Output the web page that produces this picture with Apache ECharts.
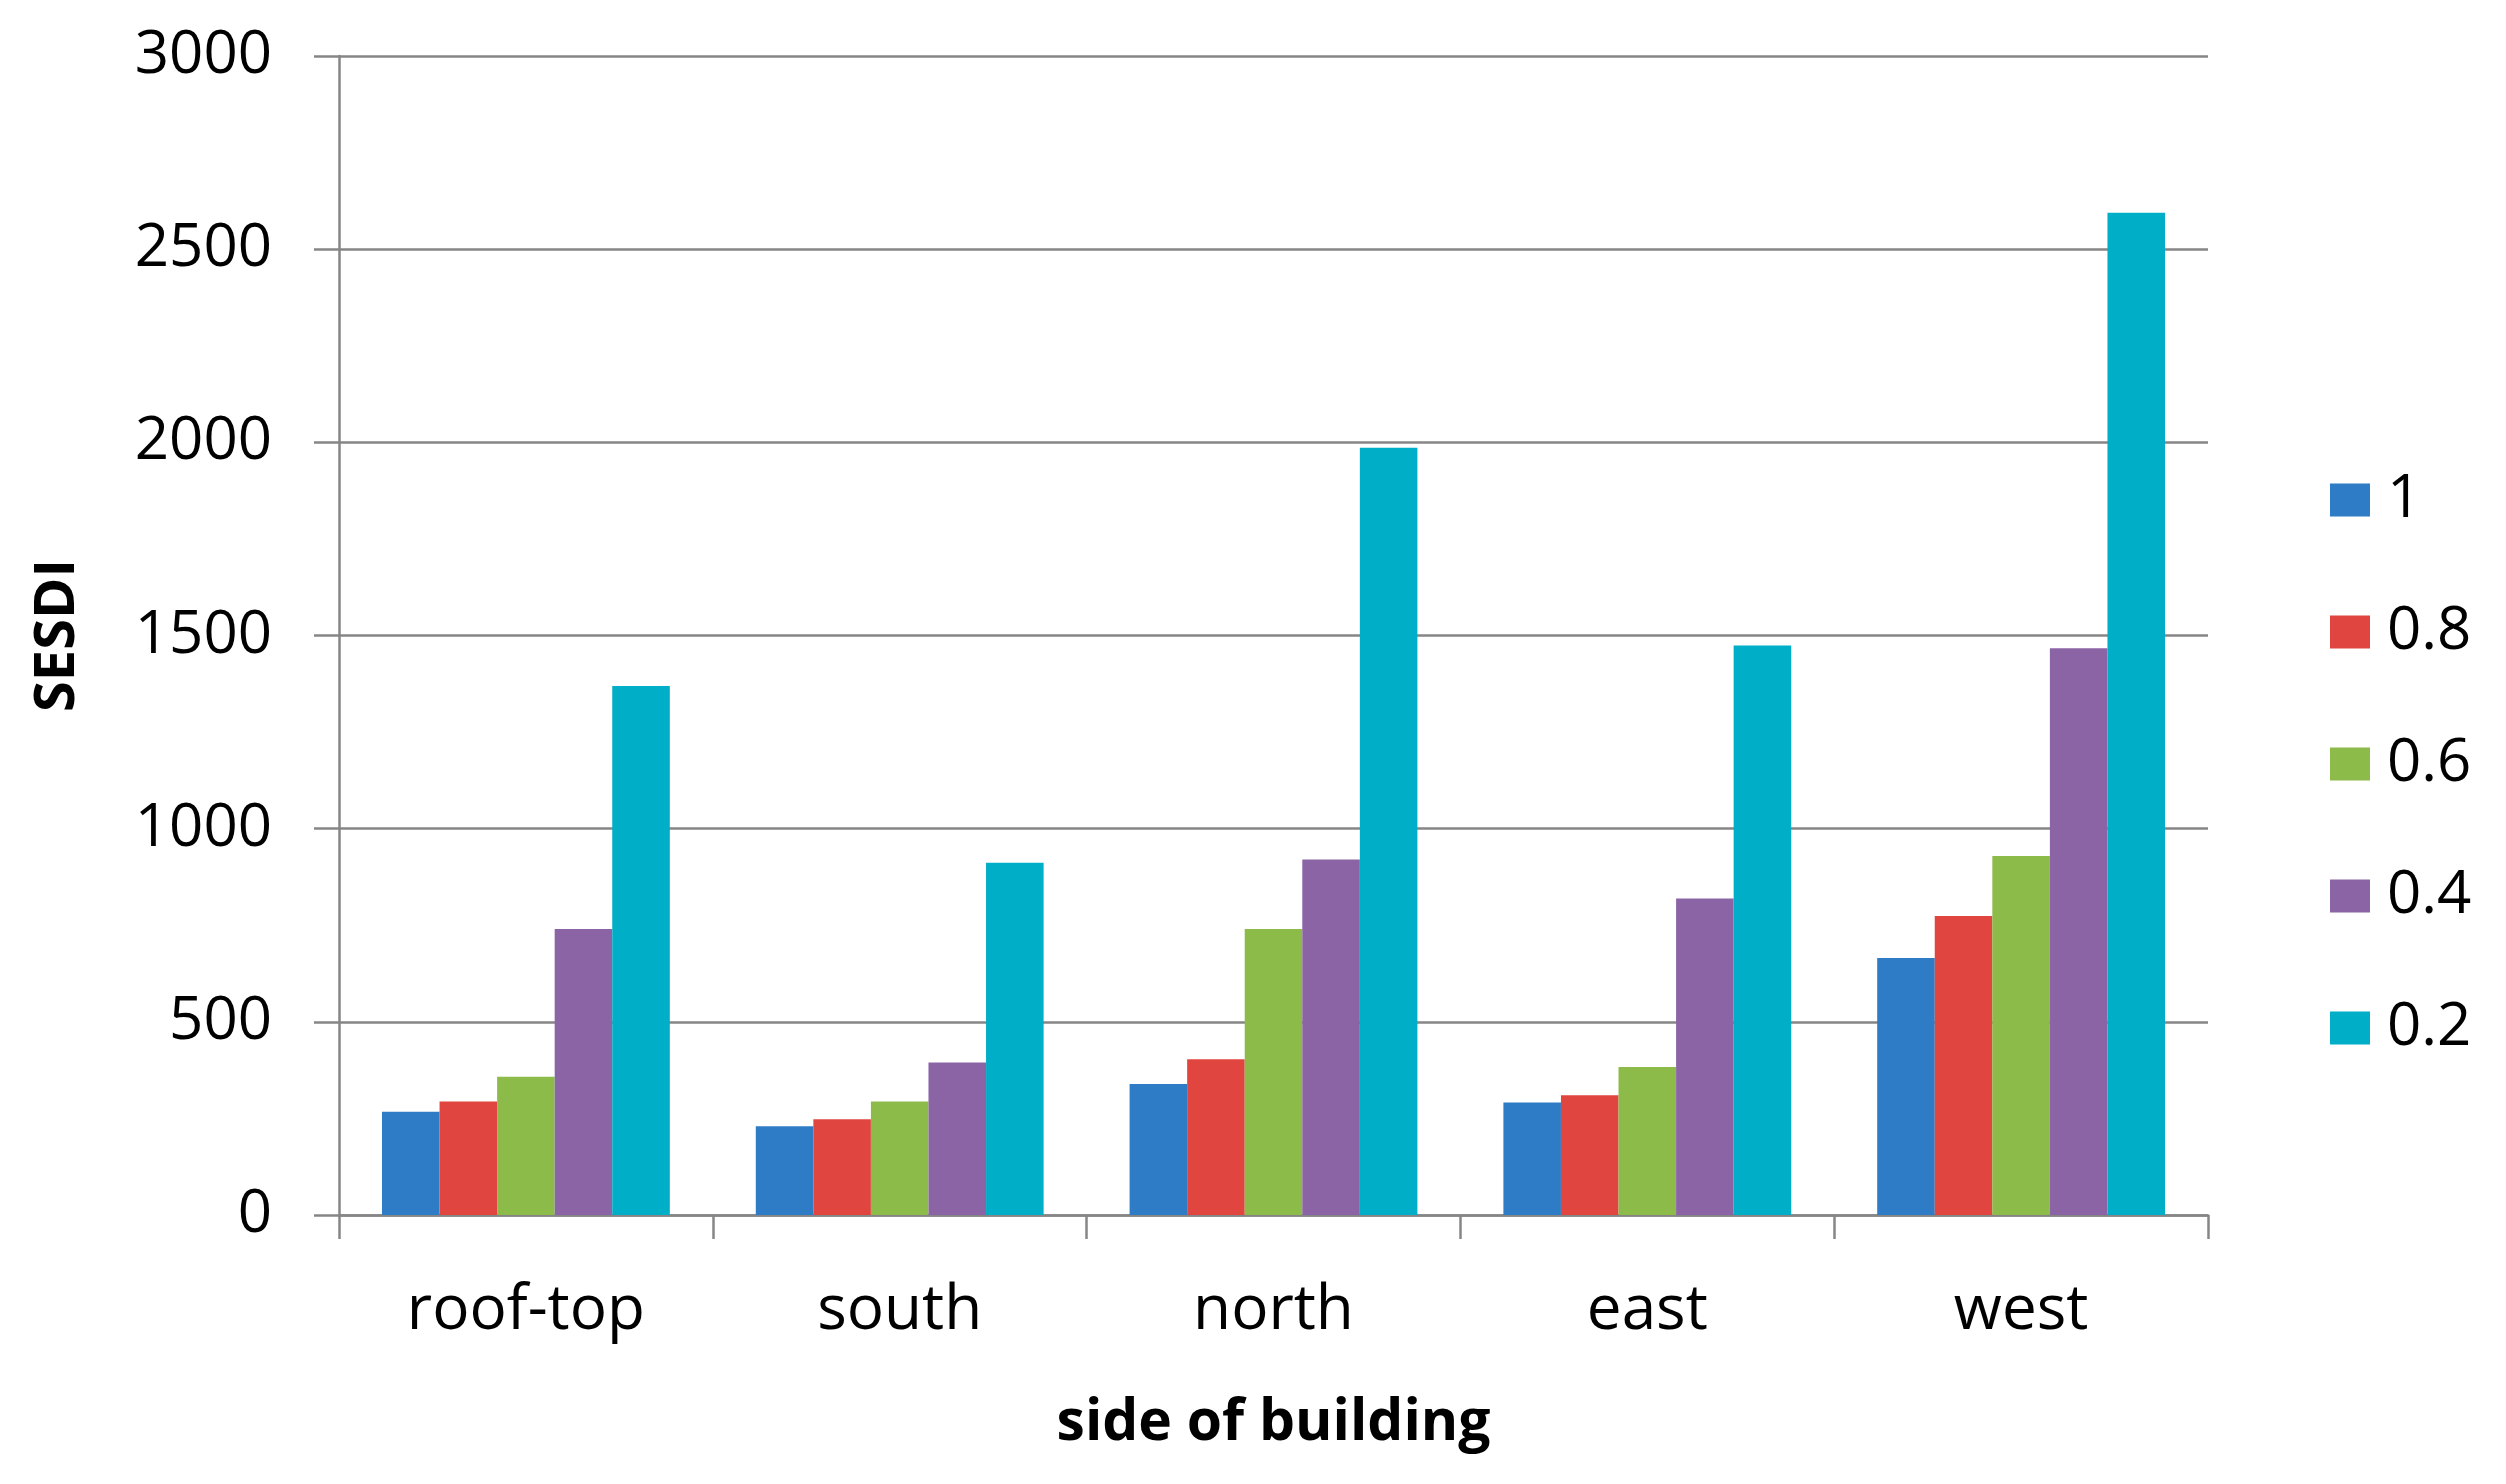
<!DOCTYPE html>
<html>
<head>
<meta charset="utf-8">
<script src="https://cdn.jsdelivr.net/npm/echarts@6/dist/echarts.min.js"></script>
<style>html,body{margin:0;padding:0;background:#fff;}#chart{width:2506px;height:1484px;}</style>
</head>
<body>
<div id="chart"></div>
<script>
const categories = ['roof-top', 'south', 'north', 'east', 'west'];
const seriesNames = ['1', '0.8', '0.6', '0.4', '0.2'];
const values_1   = [267, 230, 339, 291, 665];
const values_0_8 = [294, 248, 403, 310, 774];
const values_0_6 = [358, 294, 740, 383, 929];
const values_0_4 = [740, 395, 920, 819, 1467];
const values_0_2 = [1369, 912, 1986, 1474, 2594];
const yTicks = { min: 0, max: 3000, interval: 500 };
const colors = ['#2E7CC6', '#E0453F', '#8CBB4A', '#8B64A6', '#00AEC7'];

const allValues = [values_1, values_0_8, values_0_6, values_0_4, values_0_2];
const font = 'Open Sans';
const chart = echarts.init(document.getElementById('chart'));
chart.setOption({
  animation: false,
  backgroundColor: '#ffffff',
  color: colors,
  grid: { left: 339, right: 298, top: 56, bottom: 269, containLabel: false },
  legend: {
    orient: 'vertical',
    left: 2325,
    top: 465,
    itemWidth: 40,
    itemHeight: 33,
    itemGap: 72,
    icon: 'rect',
    data: seriesNames,
    textStyle: { fontFamily: font, fontSize: 60, color: '#000', lineHeight: 60, padding: [0, 0, 0, 12] }
  },
  xAxis: {
    type: 'category',
    data: categories,
    name: 'side of building',
    nameLocation: 'middle',
    nameGap: 180,
    nameTextStyle: { fontFamily: font, fontSize: 57, fontWeight: 'bold', color: '#000' },
    axisLine: { lineStyle: { color: '#868686', width: 2.5 } },
    axisTick: { show: true, alignWithLabel: false, length: 24, lineStyle: { color: '#868686', width: 2.5 } },
    axisLabel: { fontFamily: font, fontSize: 62, color: '#000', margin: 65 }
  },
  yAxis: {
    type: 'value',
    min: yTicks.min,
    max: yTicks.max,
    interval: yTicks.interval,
    name: 'SESDI',
    nameLocation: 'middle',
    nameRotate: 90,
    nameGap: 253,
    nameTextStyle: { fontFamily: font, fontSize: 56, fontWeight: 'bold', color: '#000' },
    axisLine: { show: true, lineStyle: { color: '#868686', width: 2.5 } },
    axisTick: { show: true, length: 25, lineStyle: { color: '#868686', width: 2.5 } },
    axisLabel: { fontFamily: font, fontSize: 60, color: '#000', margin: 67, formatter: v => String(v) },
    splitLine: { show: true, lineStyle: { color: '#868686', width: 2.5 } }
  },
  series: seriesNames.map((n, i) => ({
    name: n,
    type: 'bar',
    data: allValues[i],
    barGap: '0%',
    barCategoryGap: '23%',
    itemStyle: { color: colors[i] }
  }))
});
</script>
</body>
</html>
